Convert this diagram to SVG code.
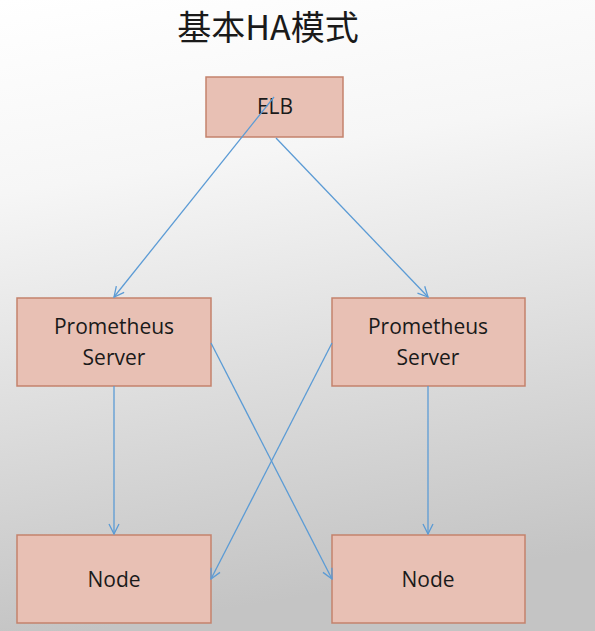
<svg xmlns="http://www.w3.org/2000/svg" width="595" height="631" viewBox="0 0 595 631">
<defs>
<linearGradient id="bg" x1="0" y1="0" x2="0.15" y2="1">
<stop offset="0" stop-color="#ffffff"/>
<stop offset="0.3" stop-color="#f6f6f6"/>
<stop offset="1" stop-color="#c4c4c4"/>
</linearGradient>
<marker id="arr" viewBox="0 0 12 12" refX="11" refY="6" markerWidth="12" markerHeight="12" markerUnits="userSpaceOnUse" orient="auto">
<path d="M1,1 L11,6 L1,11" fill="none" stroke="#5b9bd5" stroke-width="1.3"/>
</marker>
<style>
.box{fill:#e8c0b4;stroke:#c4826c;stroke-width:1.5}
.lbl{font-family:"Open Sans","Liberation Sans",sans-serif;font-size:21px;fill:#1a1a1a;text-anchor:middle}
.ttl{font-family:"Noto Sans CJK SC","Noto Sans",sans-serif;font-size:34px;fill:#1a1a1a;text-anchor:middle}
.con{stroke:#5b9bd5;stroke-width:1.3;fill:none;marker-end:url(#arr)}
</style>
</defs>
<rect width="595" height="631" fill="url(#bg)"/>
<text class="ttl" x="268" y="40">基本HA模式</text>
<g id="elb"><rect class="box" x="206" y="77" width="137" height="60"/><text class="lbl" x="275" y="114">ELB</text></g>
<g id="ps1"><rect class="box" x="17" y="298" width="194" height="88"/><text class="lbl" x="114" y="334">Prometheus</text><text class="lbl" x="114" y="365">Server</text></g>
<g id="ps2"><rect class="box" x="332" y="298" width="193" height="88"/><text class="lbl" x="428" y="334">Prometheus</text><text class="lbl" x="428" y="365">Server</text></g>
<g id="node1"><rect class="box" x="17" y="535" width="194" height="88"/><text class="lbl" x="114" y="587">Node</text></g>
<g id="node2"><rect class="box" x="332" y="535" width="193" height="88"/><text class="lbl" x="428" y="587">Node</text></g>
<g id="connectors">
<line class="con" x1="274" y1="97" x2="114" y2="297"/>
<line class="con" x1="276" y1="138" x2="428" y2="297"/>
<line class="con" x1="114" y1="386" x2="114" y2="534"/>
<line class="con" x1="428" y1="386" x2="428" y2="534"/>
<line class="con" x1="211" y1="343" x2="332" y2="579"/>
<line class="con" x1="332" y1="343" x2="211" y2="579"/>
</g>
</svg>
